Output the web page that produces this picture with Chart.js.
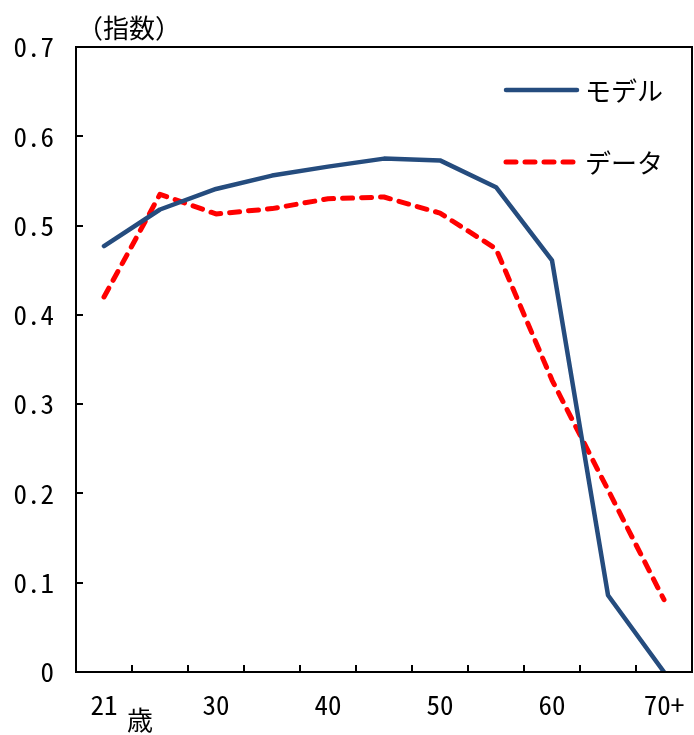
<!DOCTYPE html>
<html lang="ja">
<head>
<meta charset="utf-8">
<title>年齢別指数：モデルとデータ</title>
<script src="https://cdn.jsdelivr.net/npm/chart.js@4/dist/chart.umd.min.js"></script>
<style>
  html, body { margin: 0; padding: 0; background: #ffffff; }
  #wrap { width: 694px; height: 735px; }
</style>
</head>
<body>
<div id="wrap"><canvas id="chart" width="694" height="735"></canvas></div>
<script>
// Age groups (categories) and the labels printed under the axis
const categories = ['21', '25', '30', '35', '40', '45', '50', '55', '60', '65', '70+'];
const shownLabels = ['21', '30', '40', '50', '60', '70+'];

// Index by age group
const modelValues = [0.477, 0.518, 0.541, 0.556, 0.566, 0.575, 0.573, 0.543, 0.461, 0.086, 0.000];
const dataValues  = [0.420, 0.535, 0.513, 0.519, 0.530, 0.532, 0.514, 0.474, 0.327, 0.204, 0.081];

// Y-axis range and tick step
const yMin = 0;
const yMax = 0.7;
const yStep = 0.1;

const seriesNames = ['モデル', 'データ'];
const unitLabel = '（指数）';
const ageUnit = '歳';

const JP_FONT = '"Noto Sans CJK JP", "Noto Sans", sans-serif';
const NUM_FONT = '"Noto Sans Mono CJK JP", "Liberation Mono", monospace';

// Frame, inward tick marks, legend and unit captions
const decorations = {
  id: 'decorations',
  afterDraw(chart) {
    const { ctx, chartArea: a, scales } = chart;
    const x = scales.x, y = scales.y;
    ctx.save();
    ctx.strokeStyle = '#000000';
    ctx.lineWidth = 2;
    ctx.lineCap = 'butt';
    ctx.setLineDash([]);
    ctx.strokeRect(a.left, a.top, a.right - a.left, a.bottom - a.top);

    const tickLen = 7;
    ctx.beginPath();
    y.ticks.forEach(t => {
      const py = Math.round(y.getPixelForValue(t.value));
      ctx.moveTo(a.left, py);
      ctx.lineTo(a.left + tickLen, py);
    });
    for (let i = 0; i < categories.length - 1; i++) {
      const px = Math.round((x.getPixelForValue(i) + x.getPixelForValue(i + 1)) / 2);
      ctx.moveTo(px, a.bottom);
      ctx.lineTo(px, a.bottom - tickLen);
    }
    ctx.stroke();

    // legend inside the plot area
    const legendX0 = 506, legendX1 = 577, textX = 585;
    const legendRows = [90, 162];
    ctx.font = '26px ' + JP_FONT;
    ctx.textBaseline = 'middle';
    ctx.textAlign = 'left';
    chart.data.datasets.forEach((ds, i) => {
      const ly = legendRows[i];
      ctx.strokeStyle = ds.borderColor;
      ctx.lineWidth = ds.borderWidth;
      ctx.lineCap = 'round';
      ctx.setLineDash(ds.borderDash || []);
      ctx.beginPath();
      ctx.moveTo(legendX0, ly);
      ctx.lineTo(legendX1, ly);
      ctx.stroke();
      ctx.setLineDash([]);
      ctx.fillStyle = '#000000';
      ctx.fillText(ds.label, textX, ly + 1);
    });

    // unit captions
    ctx.fillStyle = '#000000';
    ctx.font = '26px ' + JP_FONT;
    ctx.textAlign = 'center';
    ctx.fillText(unitLabel, 129, 28);
    ctx.fillText(ageUnit, 140, 720);
    ctx.restore();
  }
};

new Chart(document.getElementById('chart'), {
  type: 'line',
  data: {
    labels: categories,
    datasets: [
      {
        label: seriesNames[0],
        data: modelValues,
        borderColor: '#254C7E',
        borderWidth: 4.5,
        borderJoinStyle: 'round',
        borderCapStyle: 'round',
        pointRadius: 0,
        tension: 0,
        fill: false
      },
      {
        label: seriesNames[1],
        data: dataValues,
        borderColor: '#FF0000',
        borderWidth: 5,
        borderDash: [10, 9],
        borderJoinStyle: 'round',
        borderCapStyle: 'round',
        pointRadius: 0,
        tension: 0,
        fill: false
      }
    ]
  },
  options: {
    responsive: false,
    animation: false,
    devicePixelRatio: 1,
    layout: { padding: { top: 47, right: 2, left: 0, bottom: 0 } },
    plugins: {
      legend: { display: false },
      tooltip: { enabled: false },
      title: { display: false }
    },
    scales: {
      x: {
        type: 'category',
        offset: true,
        grid: { display: false, drawTicks: false },
        border: { display: false },
        ticks: {
          autoSkip: false,
          maxRotation: 0,
          minRotation: 0,
          padding: 17,
          color: '#000000',
          font: { family: NUM_FONT, size: 27 },
          callback(value) {
            const lab = this.getLabelForValue(value);
            return shownLabels.includes(lab) ? lab : '';
          }
        },
        afterFit(scale) {
          scale.height = 63;
          scale.paddingLeft = 0;
          scale.paddingRight = 0;
        }
      },
      y: {
        min: yMin,
        max: yMax,
        grid: { display: false, drawTicks: false },
        border: { display: false },
        ticks: {
          stepSize: yStep,
          padding: 22,
          color: '#000000',
          font: { family: NUM_FONT, size: 27 },
          callback(value) {
            return value === 0 ? '0' : value.toFixed(1);
          }
        },
        afterFit(scale) {
          scale.width = 76;
          scale.paddingTop = 0;
          scale.paddingBottom = 0;
        }
      }
    }
  },
  plugins: [decorations]
});
</script>
</body>
</html>
